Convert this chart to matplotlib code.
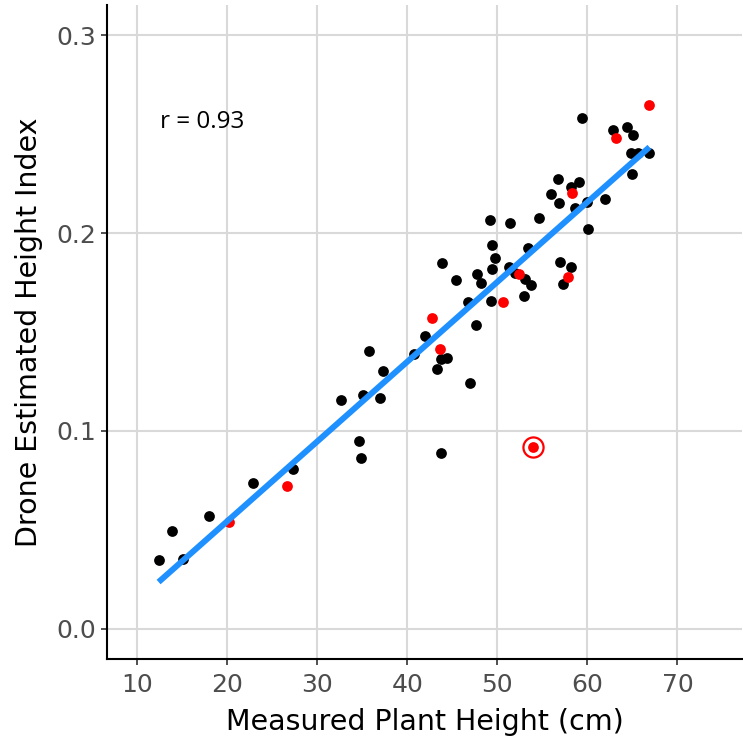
import numpy as np
import matplotlib
matplotlib.use("Agg")
from matplotlib import pyplot as plt

# measured plant height (cm) and drone height index, black points
black_x = [12.4, 13.9, 15.1, 18.0, 22.9, 27.3, 32.7, 34.7, 34.9, 35.1, 35.8, 37.0, 37.3,
           40.7, 42.0, 43.3, 43.8, 44.4, 43.9, 43.7, 45.4, 46.7, 47.0, 47.6, 47.7, 48.2,
           49.2, 49.4, 49.4, 49.7, 49.3, 51.3, 51.4, 52.0, 53.1, 53.7, 53.0, 53.4, 54.6,
           56.0, 56.7, 56.8, 57.0, 57.3, 58.2, 58.2, 58.6, 59.1, 59.4, 60.0, 60.1, 62.0,
           62.9, 64.4, 65.1, 64.9, 65.6, 66.9, 65.0]
black_y = [0.0348, 0.0495, 0.0354, 0.0571, 0.0737, 0.0808, 0.1157, 0.0949, 0.0864, 0.1182,
           0.1404, 0.1167, 0.1303, 0.1389, 0.1480, 0.1313, 0.1364, 0.1369, 0.1848, 0.0889,
           0.1763, 0.1652, 0.1242, 0.1535, 0.1793, 0.1747, 0.2066, 0.1939, 0.1818, 0.1874,
           0.1657, 0.1828, 0.2051, 0.1798, 0.1768, 0.1737, 0.1682, 0.1924, 0.2076, 0.2197,
           0.2273, 0.2152, 0.1854, 0.1742, 0.1828, 0.2232, 0.2126, 0.2258, 0.2581, 0.2157,
           0.2020, 0.2172, 0.2520, 0.2535, 0.2495, 0.2404, 0.2404, 0.2404, 0.2298]

# red points
red_x = [66.9, 63.2, 58.3, 57.9, 52.4, 50.6, 42.7, 43.6, 26.6, 20.2, 54.0]
red_y = [0.2646, 0.2480, 0.2202, 0.1778, 0.1793, 0.1652, 0.1571, 0.1414, 0.0722, 0.0540, 0.0919]

# circled outlier
outlier = (54.0, 0.0919)

fit_x = [12.4, 66.9]
fit_y = [0.0237, 0.2434]

r_label = "r = 0.93"

fig = plt.figure(figsize=(7.43, 7.44), dpi=100)
ax = fig.add_axes([0.144, 0.1142, 0.855, 0.8791])

ax.grid(True, color="#D9D9D9", linewidth=1.5, zorder=0)
ax.set_axisbelow(True)

ax.scatter(black_x, black_y, s=60, color="black", linewidths=0, zorder=3)
ax.scatter(red_x, red_y, s=60, color="red", linewidths=0, zorder=3)
ax.plot(fit_x, fit_y, color="#1E90FF", linewidth=4.3, solid_capstyle="butt", zorder=4)
ax.plot([outlier[0]], [outlier[1]], marker="o", markersize=14.5, markerfacecolor="none",
        markeredgecolor="red", markeredgewidth=1.6, zorder=5)

ax.text(12.6, 0.256, r_label, fontsize=17.5, family=["Open Sans", "DejaVu Sans"],
        ha="left", va="center")

ax.set_xlim(6.67, 77.2)
ax.set_ylim(-0.0152, 0.3152)
ax.set_xticks([10, 20, 30, 40, 50, 60, 70])
ax.set_yticks([0.0, 0.1, 0.2, 0.3])
ax.set_yticklabels(["0.0", "0.1", "0.2", "0.3"])

for s in ["top", "right"]:
    ax.spines[s].set_visible(False)
for s in ["left", "bottom"]:
    ax.spines[s].set_linewidth(1.5)
    ax.spines[s].set_color("black")

ax.tick_params(axis="both", length=4, width=1.2, color="#333333",
               labelsize=18, labelcolor="#4D4D4D")
ax.tick_params(axis="x", pad=6)
for lab in ax.get_xticklabels() + ax.get_yticklabels():
    lab.set_family("DejaVu Sans")

ax.set_xlabel("Measured Plant Height (cm)", fontsize=20.5, family="DejaVu Sans", labelpad=8)
ax.set_ylabel("Drone Estimated Height Index", fontsize=20.5, family="DejaVu Sans", labelpad=10)

fig.savefig("out.png", dpi=100)
